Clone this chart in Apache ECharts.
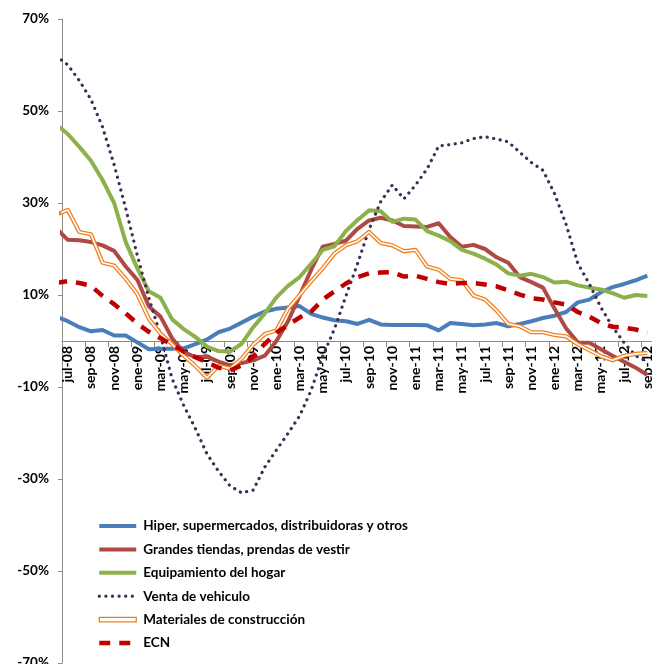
<!DOCTYPE html>
<html>
<head>
<meta charset="utf-8">
<script src="https://cdn.jsdelivr.net/npm/echarts@6/dist/echarts.min.js"></script>
<style>
html,body{margin:0;padding:0;background:#ffffff;}
#chart{width:652px;height:664px;}
</style>
</head>
<body>
<div id="chart"></div>
<script>
// Months (first entry is the month before the visible range; its line segment is clipped at the axis)
const months = ['jun-08','jul-08','ago-08','sep-08','oct-08','nov-08','dic-08',
  'ene-09','feb-09','mar-09','abr-09','may-09','jun-09','jul-09','ago-09','sep-09','oct-09','nov-09','dic-09',
  'ene-10','feb-10','mar-10','abr-10','may-10','jun-10','jul-10','ago-10','sep-10','oct-10','nov-10','dic-10',
  'ene-11','feb-11','mar-11','abr-11','may-11','jun-11','jul-11','ago-11','sep-11','oct-11','nov-11','dic-11',
  'ene-12','feb-12','mar-12','abr-12','may-12','jun-12','jul-12','ago-12','sep-12'];

const yTicks = [-70, -50, -30, -10, 10, 30, 50, 70];

const hiper = [5.3, 4.3, 3.0, 2.1, 2.4, 1.2, 1.2, -0.3, -1.8, -1.7, -1.7, -1.6, -0.7, 0.3, 1.9, 2.7, 4.0, 5.3, 6.4, 7.0, 7.3,
  7.6, 5.9, 5.1, 4.5, 4.3, 3.7, 4.6, 3.6, 3.5, 3.5, 3.5, 3.4, 2.3, 3.9, 3.7, 3.4, 3.6, 3.9, 3.2, 3.7,
  4.3, 5.0, 5.5, 6.3, 8.4, 9.0, 10.6, 11.7, 12.4, 13.2, 14.2];

const grandes = [24.5, 22.0, 21.9, 21.5, 20.8, 19.6, 16.2, 13.3, 7.5, 5.3, 0.6, -2.4, -3.5, -3.4, -4.5, -5.3, -4.8, -4.2, -3.2, 0.0, 4.3,
  9.8, 15.5, 20.5, 21.1, 21.8, 24.4, 26.2, 26.8, 26.2, 25.0, 24.9, 24.8, 25.6, 22.6, 20.5, 20.9, 20.0, 18.2, 17.0, 13.9,
  12.8, 11.6, 7.0, 2.7, -0.3, -0.4, -1.8, -3.2, -4.5, -5.8, -7.4];

const equipamiento = [47.1, 45.0, 42.2, 39.2, 35.0, 30.0, 21.5, 15.8, 10.8, 9.4, 4.7, 2.6, 0.9, -1.2, -2.2, -2.3, -0.6, 3.0, 6.0, 9.5, 12.0,
  13.9, 16.8, 19.8, 20.6, 23.9, 26.3, 28.4, 28.2, 25.9, 26.6, 26.4, 23.9, 22.9, 21.7, 19.8, 19.0, 17.9, 16.6, 14.7, 14.2,
  14.6, 13.9, 12.7, 12.9, 12.1, 11.6, 11.2, 10.4, 9.4, 10.0, 9.8];

const vehiculo = [62.0, 60.0, 56.6, 52.5, 46.5, 38.3, 28.8, 18.6, 9.3, 1.2, -8.2, -14.0, -19.0, -24.5, -28.3, -31.5, -33.0, -32.4, -27.4, -23.7, -20.1,
  -16.3, -10.7, -3.3, 2.6, 9.8, 16.8, 24.3, 30.3, 33.9, 30.9, 33.9, 37.4, 42.4, 42.7, 43.1, 44.0, 44.4, 43.9, 43.3, 41.0,
  38.8, 37.1, 32.0, 25.3, 16.9, 12.4, 7.3, 3.1, -0.4, -3.2, -4.5];

const materiales = [27.5, 28.5, 23.7, 23.2, 17.0, 16.4, 13.5, 10.2, 4.8, 1.6, -0.7, -3.2, -5.4, -8.0, -5.4, -6.0, -3.8, -0.8, 1.5, 2.3, 7.0,
  10.0, 13.0, 15.8, 19.0, 20.8, 21.7, 23.7, 21.3, 20.8, 19.5, 19.8, 16.2, 15.5, 13.5, 13.2, 9.9, 9.0, 6.6, 3.7, 3.2,
  1.9, 1.9, 1.3, 1.0, -0.7, -2.0, -3.3, -4.2, -3.2, -2.8, -2.6];

const ecn = [12.6, 13.0, 12.6, 12.0, 9.8, 8.0, 6.0, 3.8, 2.0, 0.6, -0.8, -2.3, -3.5, -4.6, -5.8, -6.4, -5.3, -3.4, -0.6, 1.8, 3.5,
  5.1, 6.4, 9.0, 10.8, 12.5, 13.9, 14.7, 14.9, 15.0, 14.0, 14.2, 13.5, 12.8, 12.4, 12.6, 12.6, 12.3, 11.9, 11.0, 10.1,
  9.3, 9.0, 8.4, 7.9, 6.3, 5.3, 3.9, 3.1, 2.9, 2.5, 1.8];

const names = ['Hiper, supermercados, distribuidoras y otros', 'Grandes tiendas, prendas de vestir',
  'Equipamiento del hogar', 'Venta de vehiculo', 'Materiales de construcción', 'ECN'];

const FONT = "Lato, 'Liberation Sans', sans-serif";
const C = { blue:'#4A7EBB', red:'#AF4944', green:'#8CB04A', purple:'#3C2F55', orange:'#F0811E', ecn:'#C00000' };

// Month k of the visible range sits at x = k; jun-08 (index 0 in arrays) at x = -1 (clipped).
const toXY = vals => vals.map((v, k) => [k - 1, v]);
const visibleMonths = months.slice(1);
const labelValues = visibleMonths.map((m, k) => k).filter(k => k % 2 === 0);
const tickValues = labelValues.map(k => k - 0.5);

const GRID = { left: 62, top: 19, width: 591.1, height: 644 };
const yMin = yTicks[0], yMax = yTicks[yTicks.length - 1];
// move the horizontal axis (line, ticks, labels) up to the zero line
const zeroOffset = -GRID.height * (0 - yMin) / (yMax - yMin);

function line(name, vals, color, width, extra) {
  return {
    name: name, type: 'line', data: toXY(vals),
    symbol: 'none', showSymbol: false, clip: true, animation: false, silent: true,
    lineStyle: Object.assign({ color: color, width: width, cap: 'butt', join: 'round' }, extra || {})
  };
}

const chart = echarts.init(document.getElementById('chart'), null, { renderer: 'canvas' });

chart.setOption({
  animation: false,
  backgroundColor: '#ffffff',
  grid: Object.assign({ containLabel: false, outerBoundsMode: 'none' }, GRID),
  xAxis: {
    type: 'value', min: -0.5, max: visibleMonths.length - 0.5, position: 'bottom', offset: zeroOffset,
    axisLine: { show: true, onZero: false, lineStyle: { color: '#8C8C8C', width: 1 } },
    axisTick: { show: true, customValues: tickValues, length: 6, inside: false, lineStyle: { color: '#8C8C8C', width: 1 } },
    axisLabel: { show: true, customValues: labelValues, rotate: 90, margin: 5, fontSize: 14, fontWeight: 'bold',
      color: '#000', fontFamily: FONT, hideOverlap: false, showMinLabel: true, showMaxLabel: true,
      formatter: v => visibleMonths[Math.round(v)] },
    splitLine: { show: false }
  },
  yAxis: {
    type: 'value', min: yMin, max: yMax, interval: 20,
    axisLine: { show: true, onZero: false, lineStyle: { color: '#8C8C8C', width: 1 } },
    axisTick: { show: true, length: 4, inside: false, lineStyle: { color: '#8C8C8C', width: 1 } },
    axisLabel: { formatter: '{value}%', margin: 13, fontSize: 13.5, fontWeight: 'bold', color: '#000', fontFamily: FONT, hideOverlap: false },
    splitLine: { show: false }
  },
  legend: {
    orient: 'vertical', left: 97, top: 519, padding: 0,
    itemWidth: 37, itemHeight: 14, itemGap: 9.4, selectedMode: false,
    textStyle: { fontSize: 13.5, fontWeight: 'bold', color: '#000', fontFamily: FONT, padding: [0, 0, 0, 2] },
    data: [
      { name: names[0], lineStyle: { width: 4 }, itemStyle: { opacity: 0 } },
      { name: names[1], lineStyle: { width: 4 }, itemStyle: { opacity: 0 } },
      { name: names[2], lineStyle: { width: 4 }, itemStyle: { opacity: 0 } },
      { name: names[3], lineStyle: { width: 3.2 }, itemStyle: { opacity: 0 } },
      { name: names[4], icon: 'path://M0,0 L37,0 L37,4.4 L0,4.4 Z',
        itemStyle: { color: '#ffffff', borderColor: C.orange, borderWidth: 1.3 } },
      { name: names[5], lineStyle: { width: 4.5 }, itemStyle: { opacity: 0 } }
    ]
  },
  series: [
    line(names[0], hiper, C.blue, 4),
    line(names[1], grandes, C.red, 4),
    line(names[2], equipamiento, C.green, 4),
    line(names[3], vehiculo, C.purple, 3.2, { type: [0.1, 6.5], cap: 'round' }),
    line(names[4], materiales, C.orange, 4.2),
    line('mat_inner', materiales, '#ffffff', 1.6),
    line(names[5], ecn, C.ecn, 4.5, { type: [11, 9] })
  ]
});
</script>
</body>
</html>
